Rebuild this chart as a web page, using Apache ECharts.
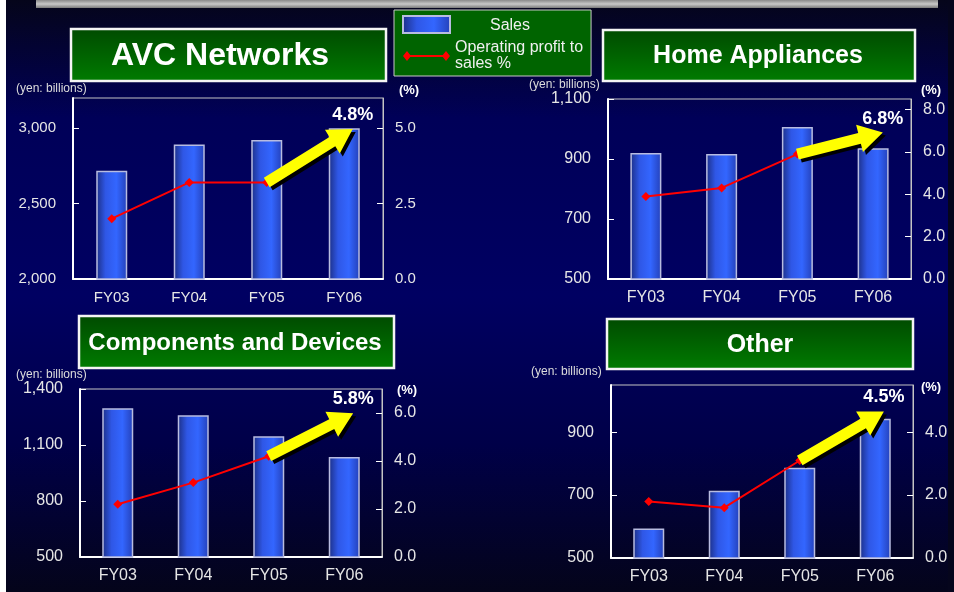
<!DOCTYPE html>
<html>
<head>
<meta charset="utf-8">
<script src="https://cdn.jsdelivr.net/npm/echarts@6/dist/echarts.min.js"></script>
<style>
  html, body { margin: 0; padding: 0; background: #000; }
  #chart { width: 954px; height: 592px; }
</style>
</head>
<body>
<div id="chart"></div>
<script>
// ================= data =================
const categories = ['FY03', 'FY04', 'FY05', 'FY06']

const avcSales = [2717, 2892, 2922, 3000]
const avcMargin = [2.0, 3.2, 3.2, 4.8]

const homeSales = [920, 917, 1007, 936]
const homeMargin = [3.9, 4.3, 5.9, 6.8]

const compSales = [1297, 1259, 1147, 1036]
const compMargin = [2.2, 3.1, 4.2, 5.8]

const otherSales = [594, 714, 787, 943]
const otherMargin = [1.8, 1.6, 3.1, 4.5]

const FONT = '"Liberation Sans", Arial, sans-serif'

// ================= panels (layout) =================
const panels = [
  {
    title: 'AVC Networks', titleSize: 32, box: [71, 29, 315, 52], textX: 220,
    grid: { left: 73, top: 98, width: 310, height: 181 },
    sales: avcSales, margin: avcMargin,
    left: { min: 2000, max: 3200, interval: 500, showMax: false },
    right: { min: 0, max: 6, interval: 2.5 },
    fs: 15, unit: [16, 89], pct: [409, 90]
  },
  {
    title: 'Home Appliances', titleSize: 25, box: [603, 30, 312, 51], textX: 758,
    grid: { left: 608, top: 99, width: 303, height: 180 },
    sales: homeSales, margin: homeMargin,
    left: { min: 500, max: 1100, interval: 200, showMax: true },
    right: { min: 0, max: 8.5, interval: 2 },
    fs: 16, unit: [529, 85], pct: [931, 90]
  },
  {
    title: 'Components and Devices', titleSize: 24, box: [79, 316, 315, 52], textX: 235,
    grid: { left: 80, top: 389, width: 302, height: 168 },
    sales: compSales, margin: compMargin,
    left: { min: 500, max: 1400, interval: 300, showMax: true },
    right: { min: 0, max: 7, interval: 2 },
    fs: 16, unit: [16, 375], pct: [407, 390]
  },
  {
    title: 'Other', titleSize: 25, box: [607, 319, 306, 50], textX: 760,
    grid: { left: 611, top: 385, width: 302, height: 173 },
    sales: otherSales, margin: otherMargin,
    left: { min: 500, max: 1050, interval: 200, showMax: false },
    right: { min: 0, max: 5.5, interval: 2 },
    fs: 16, unit: [531, 372], pct: [931, 387]
  }
]

// ================= styles =================
const barColor = new echarts.graphic.LinearGradient(0, 0, 1, 0, [
  { offset: 0, color: '#1c2f86' },
  { offset: 0.3, color: '#2f57e6' },
  { offset: 0.65, color: '#3366ff' },
  { offset: 1, color: '#2440b8' }
])

const titleFill = new echarts.graphic.LinearGradient(0, 0, 0, 1, [
  { offset: 0, color: '#004a00' },
  { offset: 1, color: '#007c00' }
])

// legend icon: red line with a diamond at each end
const lineIcon = 'path://M0,5 L4,0 L8,5 L4,10 Z M39,5 L43,0 L47,5 L43,10 Z M4,4 L43,4 L43,6 L4,6 Z'

// yellow arrow from previous year's margin to this year's
const renderArrow = (params, api) => {
  const end = api.coord([api.value(0), api.value(1)])
  const start = api.coord([api.value(0) - 1, api.value(2)])
  const dx = end[0] - start[0]
  const dy = end[1] - start[1]
  const len = Math.hypot(dx, dy)
  const ux = dx / len, uy = dy / len
  const nx = -uy, ny = ux
  const tip = [end[0] + ux * 10, end[1] + uy * 10]
  const hw = 5.5, hh = 14, hl = 24
  const base = [tip[0] - ux * hl, tip[1] - uy * hl]
  const pts = [
    [start[0] + nx * hw, start[1] + ny * hw],
    [base[0] + nx * hw, base[1] + ny * hw],
    [base[0] + nx * hh, base[1] + ny * hh],
    tip,
    [base[0] - nx * hh, base[1] - ny * hh],
    [base[0] - nx * hw, base[1] - ny * hw],
    [start[0] - nx * hw, start[1] - ny * hw]
  ]
  const shadow = pts.map(p => [p[0] + 3, p[1] + 3])
  return {
    type: 'group',
    children: [
      { type: 'polygon', shape: { points: shadow }, style: { fill: '#000' } },
      { type: 'polygon', shape: { points: pts }, style: { fill: '#ffff00' } },
      {
        type: 'text', x: tip[0], y: tip[1] - 5,
        style: {
          text: api.value(1).toFixed(1) + '%', fill: '#fff',
          font: 'bold 18px ' + FONT, align: 'center', verticalAlign: 'bottom'
        }
      }
    ]
  }
}

// ================= option =================
const grid = [], xAxis = [], yAxis = [], series = [], graphic = []

graphic.push(
  { type: 'rect', left: 0, top: 0, shape: { width: 6, height: 592 }, style: { fill: '#ffffff' }, silent: true },
  { type: 'rect', left: 948, top: 0, shape: { width: 6, height: 592 }, style: { fill: '#05051c' }, silent: true },
  {
    type: 'rect', left: 36, top: 0, shape: { width: 902, height: 8 }, silent: true,
    style: {
      fill: new echarts.graphic.LinearGradient(0, 0, 0, 1, [
        { offset: 0, color: '#8a8a8a' },
        { offset: 0.5, color: '#c8c8c8' },
        { offset: 1, color: '#7a7a7a' }
      ])
    }
  }
)

panels.forEach((p, i) => {
  grid.push({ ...p.grid, show: true, borderColor: '#c4c4c4', borderWidth: 1, containLabel: false })

  xAxis.push({
    type: 'category', gridIndex: i, data: categories,
    axisLine: { lineStyle: { color: '#ffffff', width: 2 } },
    axisTick: { inside: true, length: 5, lineStyle: { color: '#ffffff' } },
    axisLabel: { color: '#e6e6e6', fontSize: p.fs, fontFamily: FONT, margin: 11 }
  })

  yAxis.push({
    type: 'value', gridIndex: i, position: 'left',
    min: p.left.min, max: p.left.max, interval: p.left.interval,
    splitLine: { show: false },
    axisLine: { show: true, lineStyle: { color: '#ffffff', width: 2 } },
    axisTick: { show: true, inside: true, length: 6, lineStyle: { color: '#ffffff' } },
    axisLabel: {
      color: '#e6e6e6', fontSize: p.fs, fontFamily: FONT, margin: 17,
      showMaxLabel: p.left.showMax,
      formatter: v => v.toLocaleString('en-US')
    }
  })

  yAxis.push({
    type: 'value', gridIndex: i, position: 'right',
    min: p.right.min, max: p.right.max, interval: p.right.interval,
    splitLine: { show: false },
    axisLine: { show: true, lineStyle: { color: '#c4c4c4', width: 1 } },
    axisTick: { show: true, inside: true, length: 6, lineStyle: { color: '#ffffff' } },
    axisLabel: {
      color: '#e6e6e6', fontSize: p.fs, fontFamily: FONT, margin: 12,
      showMaxLabel: false,
      formatter: v => v.toFixed(1)
    }
  })

  series.push({
    name: 'Sales', type: 'bar', xAxisIndex: i, yAxisIndex: i * 2,
    barWidth: 31, data: p.sales,
    itemStyle: { color: barColor, borderColor: '#b8bce0', borderWidth: 1.5 },
    z: 2
  })

  const last = p.margin.length - 1
  series.push({
    name: 'Operating profit to sales %', type: 'line', xAxisIndex: i, yAxisIndex: i * 2 + 1,
    data: p.margin.map((v, k) => (k === last ? '-' : v)),
    lineStyle: { color: '#ff0000', width: 2 },
    itemStyle: { color: '#ff0000' },
    symbol: 'diamond', symbolSize: 9, z: 3
  })

  series.push({
    type: 'custom', xAxisIndex: i, yAxisIndex: i * 2 + 1,
    data: [[last, p.margin[last], p.margin[last - 1]]],
    renderItem: renderArrow, z: 5, silent: true
  })

  // title box
  graphic.push({
    type: 'group', silent: true,
    children: [
      {
        type: 'rect', shape: { x: p.box[0], y: p.box[1], width: p.box[2], height: p.box[3] },
        style: { fill: titleFill, stroke: '#f4f4f4', lineWidth: 2.5 }
      },
      {
        type: 'text', x: p.textX, y: p.box[1] + p.box[3] / 2 + 1,
        style: {
          text: p.title, fill: '#ffffff', font: 'bold ' + p.titleSize + 'px ' + FONT,
          align: 'center', verticalAlign: 'middle'
        }
      }
    ]
  })

  graphic.push(
    {
      type: 'text', x: p.unit[0], y: p.unit[1], silent: true,
      style: { text: '(yen: billions)', fill: '#dcdcdc', font: '12px ' + FONT, verticalAlign: 'middle' }
    },
    {
      type: 'text', x: p.pct[0], y: p.pct[1], silent: true,
      style: { text: '(%)', fill: '#ffffff', font: 'bold 13px ' + FONT, align: 'center', verticalAlign: 'middle' }
    }
  )
})

const option = {
  animation: false,
  backgroundColor: new echarts.graphic.LinearGradient(0, 0, 0, 1, [
    { offset: 0, color: '#05051a' },
    { offset: 0.2, color: '#000058' },
    { offset: 0.5, color: '#000062' },
    { offset: 0.75, color: '#000048' },
    { offset: 1, color: '#04041a' }
  ]),
  textStyle: { fontFamily: FONT },
  legend: {
    data: [
      { name: 'Sales', icon: 'rect' },
      { name: 'Operating profit to sales %', icon: lineIcon }
    ],
    selectedMode: false,
    orient: 'vertical',
    left: 394, top: 10,
    padding: [5, 8, 4, 8],
    itemWidth: 47, itemHeight: 17, itemGap: 6,
    symbolKeepAspect: true,
    backgroundColor: '#006400',
    borderColor: '#c8c8c8', borderWidth: 1,
    formatter: name => (name === 'Sales' ? '{c|Sales}' : 'Operating profit to\nsales %'),
    textStyle: {
      color: '#f0f0f0', fontSize: 16, lineHeight: 16, fontFamily: FONT,
      rich: { c: { width: 110, align: 'center', fontSize: 16, color: '#f0f0f0', padding: [3, 0, 0, 0] } }
    }
  },
  grid, xAxis, yAxis, series, graphic
}

const chart = echarts.init(document.getElementById('chart'))
chart.setOption(option)
</script>
</body>
</html>
